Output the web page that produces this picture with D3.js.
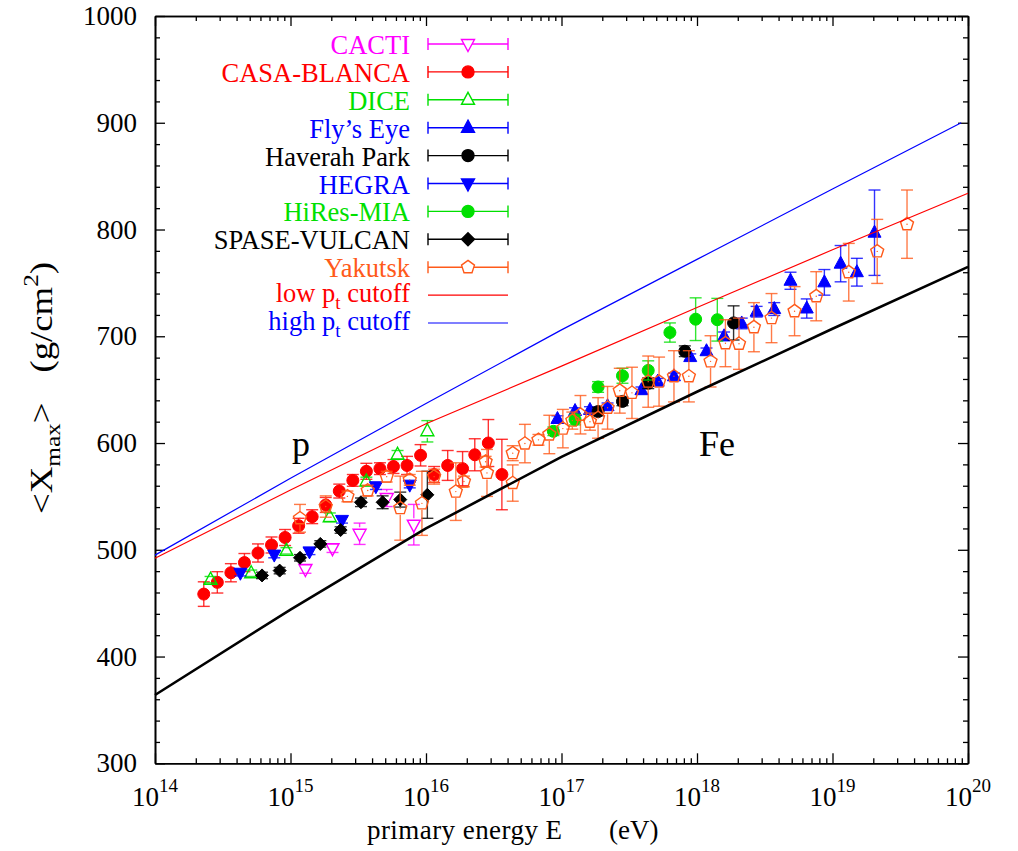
<!DOCTYPE html>
<html>
<head>
<meta charset="utf-8">
<script src="https://cdn.jsdelivr.net/npm/d3@7"></script>
<style>
  body { margin: 0; background: #fff; }
  text { font-family: "Liberation Serif", "Times New Roman", serif; }
</style>
</head>
<body>
<svg id="chart" width="1018" height="851"></svg>
<script>
// energies stored as log10(E / eV)
const cactiE = [15.11, 15.31, 15.51, 15.71, 15.91];
const cactiX = [482, 501.5, 515, 548.5, 523.5];
const cactiErr = [4, 4, 10, 8, 19];

const casaE = [14.36, 14.46, 14.56, 14.66, 14.76, 14.86, 14.96, 15.06, 15.16, 15.26, 15.36, 15.46,
               15.56, 15.66, 15.76, 15.86, 15.96, 16.06, 16.16, 16.27, 16.36, 16.46, 16.56];
const casaX = [458.5, 469.5, 478.5, 488, 497, 504.5, 511.5, 522.5, 531, 542, 555, 565,
               573.5, 576, 578, 579, 588.5, 570.5, 579, 576, 589, 600, 570.5];
const casaErr = [11.5, 10, 8.5, 8.5, 8.5, 7.5, 7.5, 7, 6.5, 7, 6.5, 5.5,
                 7.5, 5.5, 6.5, 8.5, 10, 7.5, 14, 16, 15, 22, 33];

const diceE = [14.41, 14.71, 14.97, 15.29, 15.56, 15.79, 16.01];
const diceX = [472, 478, 499, 530.5, 564, 589, 611];
const diceErr = [3, 3, 3, 4, 4, 4, 10];

const flysE = [16.97, 17.10, 17.21, 17.34, 17.59, 17.71, 17.83, 17.95, 18.07, 18.20,
               18.33, 18.44, 18.57, 18.69, 18.81, 18.94, 19.06, 19.18, 19.31];
const flysX = [622.5, 630, 631, 634.5, 649.5, 657.5, 662.5, 680.5, 686, 700,
               712, 723, 725.5, 752, 726, 750.5, 768, 760, 797];
const flysErr = [3, 3, 3, 3, 3, 3, 3, 3, 3, 4, 5, 5, 6, 8, 9, 12, 17, 13, 40];

const haverahE = [17.27, 17.45, 17.64, 17.91, 18.27];
const haverahX = [629.5, 639, 656, 686, 712.5];
const haverahErr = [4, 4, 5, 5, 16];

const hegraE = [14.63, 14.88, 15.14, 15.38, 15.63, 15.88];
const hegraX = [478.5, 495.5, 498.5, 528, 559.5, 561];
const hegraErr = [3, 3, 3, 3, 3, 3];

const hiresE = [16.94, 17.10, 17.27, 17.45, 17.64, 17.80, 17.99, 18.15];
const hiresX = [611, 622, 652.5, 663, 668, 703.5, 716, 715.5];
const hiresErr = [4, 5, 5, 7, 9, 9, 20, 20];

const spaseE = [14.79, 14.92, 15.07, 15.22, 15.37, 15.52, 15.68, 15.81, 16.01];
const spaseX = [476, 480.5, 492.5, 505.5, 518.5, 544.5, 544.5, 547, 551.5];
const spaseErr = [3, 3, 3, 3, 3, 4, 6, 7, 22];

const yakutskE = [15.07, 15.26, 15.42, 15.57, 15.71, 15.81, 15.88, 15.97, 16.06, 16.22,
                  16.28, 16.44, 16.45, 16.64, 16.64, 16.73, 16.83, 16.91, 17.01, 17.08,
                  17.14, 17.21, 17.27, 17.34, 17.43, 17.52, 17.64, 17.72, 17.83, 17.94,
                  18.10, 18.21, 18.31, 18.42, 18.55, 18.72, 18.88, 19.12, 19.33, 19.55];
const yakutskX = [529.5, 540.5, 550, 555.5, 568.5, 539, 565.5, 543.5, 568.5, 554.5,
                  564, 582.5, 572, 590.5, 562.5, 599.5, 603, 608, 613.5, 621,
                  626.5, 620, 623.5, 633, 649, 647, 657.5, 657.5, 662.5, 662.5,
                  676.5, 693.5, 693, 708.5, 717, 723.5, 737.5, 760, 779.5, 805];
const yakutskErr = [13, 10, 5, 5, 5, 30, 5, 30, 7, 27,
                    5, 5, 22, 7, 17, 18, 5, 18, 18, 8,
                    18, 8, 19, 20, 21, 24, 24, 23, 24, 24,
                    24, 22, 24, 23, 23, 23, 23, 27, 30, 32];

// model curves
const lowPtE = [14, 15, 16, 17, 18, 19, 20];
const lowPtX = [492, 556, 618, 672, 727, 781, 834];
const highPtE = [14, 15, 16, 17, 18, 19, 19.95];
const highPtX = [495, 567, 637, 706, 772, 838, 900];
const ironE = [14, 15, 16, 17, 18, 19, 20];
const ironX = [364, 444, 520, 587, 648, 707, 765];

const decades = [14, 15, 16, 17, 18, 19, 20];
const yTicks = [300, 400, 500, 600, 700, 800, 900, 1000];

const svg = d3.select("#chart");
const pL = 155, pR = 968, pT = 16, pB = 763.3;

const x = d3.scaleLog().domain([1e14, 1e20]).range([pL, pR]);
const y = d3.scaleLinear().domain([300, 1000]).range([pB, pT]);

const majorE = decades.map(d => Math.pow(10, d));
const minorE = [];
decades.slice(0, -1).forEach(d => { for (let k = 2; k <= 9; k++) minorE.push(k * Math.pow(10, d)); });
const minorY = d3.range(300, 1001, 20).filter(v => v % 100 !== 0);

function styleAxis(g) {
  g.select(".domain").attr("stroke", "#000").attr("stroke-width", 1.6);
  g.selectAll(".tick line").attr("stroke", "#000").attr("stroke-width", 1.3);
}

// frame + inward ticks on all four sides
svg.append("g").attr("transform", `translate(0,${pB})`)
  .call(d3.axisBottom(x).tickValues(majorE).tickSize(-10).tickSizeOuter(0).tickFormat("")).call(styleAxis);
svg.append("g").attr("transform", `translate(0,${pB})`)
  .call(d3.axisBottom(x).tickValues(minorE).tickSize(-5).tickSizeOuter(0).tickFormat("")).call(styleAxis);
svg.append("g").attr("transform", `translate(0,${pT})`)
  .call(d3.axisTop(x).tickValues(majorE).tickSize(-10).tickSizeOuter(0).tickFormat("")).call(styleAxis);
svg.append("g").attr("transform", `translate(0,${pT})`)
  .call(d3.axisTop(x).tickValues(minorE).tickSize(-5).tickSizeOuter(0).tickFormat("")).call(styleAxis);
svg.append("g").attr("transform", `translate(${pL},0)`)
  .call(d3.axisLeft(y).tickValues(yTicks).tickSize(-10).tickSizeOuter(0).tickFormat("")).call(styleAxis);
svg.append("g").attr("transform", `translate(${pL},0)`)
  .call(d3.axisLeft(y).tickValues(minorY).tickSize(-5).tickSizeOuter(0).tickFormat("")).call(styleAxis);
svg.append("g").attr("transform", `translate(${pR},0)`)
  .call(d3.axisRight(y).tickValues(yTicks).tickSize(-10).tickSizeOuter(0).tickFormat("")).call(styleAxis);
svg.append("g").attr("transform", `translate(${pR},0)`)
  .call(d3.axisRight(y).tickValues(minorY).tickSize(-5).tickSizeOuter(0).tickFormat("")).call(styleAxis);

// tick labels
svg.selectAll(".ylab").data(yTicks).enter().append("text")
  .attr("x", 137).attr("y", d => y(d) + 9)
  .attr("text-anchor", "end").attr("font-size", 27).text(d => d);

const xl = svg.selectAll(".xlab").data(decades).enter().append("text")
  .attr("x", d => x(Math.pow(10, d))).attr("y", 806)
  .attr("text-anchor", "middle").attr("font-size", 27);
xl.append("tspan").text("10");
xl.append("tspan").attr("dy", -14).attr("font-size", 19).text(d => d);

// axis titles
const xt = svg.append("text").attr("y", 839).attr("font-size", 27);
xt.append("tspan").attr("x", 367).attr("textLength", 195).text("primary energy E");
xt.append("tspan").attr("x", 609).text("(eV)");

const yt = svg.append("text").attr("transform", "translate(52,388) rotate(-90) scale(1.15,1)")
  .attr("text-anchor", "middle").attr("font-size", 32);
yt.append("tspan").text("<X");
yt.append("tspan").attr("font-size", 22).attr("dy", 8).text("max");
yt.append("tspan").attr("dy", -8).text(">");
yt.append("tspan").attr("dx", 26).text("(g/cm");
yt.append("tspan").attr("font-size", 22).attr("dy", -14).text("2");
yt.append("tspan").attr("dy", 14).text(")");

svg.append("text").attr("x", 292).attr("y", 456).attr("font-size", 36).text("p");
svg.append("text").attr("x", 699).attr("y", 456).attr("font-size", 36).text("Fe");

// marker shapes
function markerPath(shape) {
  const s = 6.5;
  if (shape === "circle") return d3.symbol(d3.symbolCircle, Math.PI * 6 * 6)();
  if (shape === "diamond") return `M0,${-s}L${s},0L0,${s}L${-s},0Z`;
  if (shape === "triUp") return `M0,${-7.5}L${s},${4.5}L${-s},${4.5}Z`;
  if (shape === "triDown") return `M0,${7.5}L${s},${-4.5}L${-s},${-4.5}Z`;
  if (shape === "pentagon") {
    const r = 6.8;
    return d3.range(5).map((i, j) => {
      const a = -Math.PI / 2 + i * 2 * Math.PI / 5;
      return (j ? "L" : "M") + (r * Math.cos(a)).toFixed(2) + "," + (r * Math.sin(a)).toFixed(2);
    }).join("") + "Z";
  }
}

const series = [
  {name: "CACTI", color: "#ff00ff", shape: "triDown", open: true, E: cactiE, X: cactiX, err: cactiErr},
  {name: "CASA-BLANCA", color: "#ff0000", shape: "circle", open: false, E: casaE, X: casaX, err: casaErr},
  {name: "DICE", color: "#00e000", shape: "triUp", open: true, E: diceE, X: diceX, err: diceErr},
  {name: "Fly\u2019s Eye", color: "#0000ff", shape: "triUp", open: false, E: flysE, X: flysX, err: flysErr},
  {name: "Haverah Park", color: "#000000", shape: "circle", open: false, E: haverahE, X: haverahX, err: haverahErr},
  {name: "HEGRA", color: "#0000ff", shape: "triDown", open: false, E: hegraE, X: hegraX, err: hegraErr},
  {name: "HiRes-MIA", color: "#00e000", shape: "circle", open: false, E: hiresE, X: hiresX, err: hiresErr},
  {name: "SPASE-VULCAN", color: "#000000", shape: "diamond", open: false, E: spaseE, X: spaseX, err: spaseErr},
  {name: "Yakutsk", color: "#ff5a1a", shape: "pentagon", open: true, E: yakutskE, X: yakutskX, err: yakutskErr}
];

const cap = 6;
const plot = svg.append("g");

series.forEach(s => {
  const pts = s.E.map((e, i) => ({px: x(Math.pow(10, e)), py: y(s.X[i]), lo: y(s.X[i] - s.err[i]), hi: y(s.X[i] + s.err[i])}));
  const g = plot.append("g").attr("stroke", s.color).attr("stroke-width", 1.4);
  // error bars (gap around open markers)
  pts.forEach(p => {
    const gap = s.open ? 6.5 : 0;
    if (p.py - p.hi > gap) g.append("line").attr("x1", p.px).attr("x2", p.px).attr("y1", p.hi).attr("y2", p.py - gap).attr("stroke-opacity", 0.8);
    if (p.lo - p.py > gap) g.append("line").attr("x1", p.px).attr("x2", p.px).attr("y1", p.py + gap).attr("y2", p.lo).attr("stroke-opacity", 0.8);
    g.append("line").attr("x1", p.px - cap).attr("x2", p.px + cap).attr("y1", p.hi).attr("y2", p.hi).attr("stroke-opacity", 0.8);
    g.append("line").attr("x1", p.px - cap).attr("x2", p.px + cap).attr("y1", p.lo).attr("y2", p.lo).attr("stroke-opacity", 0.8);
  });
  g.selectAll("path.m").data(pts).enter().append("path")
    .attr("transform", p => `translate(${p.px},${p.py})`)
    .attr("d", markerPath(s.shape))
    .attr("fill", s.open ? "none" : s.color)
    .attr("stroke-width", s.open ? 1.4 : 1);
  if (s.shape === "pentagon") {
    g.selectAll("circle.c").data(pts).enter().append("circle")
      .attr("cx", p => p.px).attr("cy", p => p.py).attr("r", 0.7)
      .attr("fill", s.color).attr("stroke", "none");
  }
});

// model curves
const line = d3.line().x(d => x(Math.pow(10, d[0]))).y(d => y(d[1]));
svg.append("path").datum(lowPtE.map((e, i) => [e, lowPtX[i]]))
  .attr("d", line).attr("fill", "none").attr("stroke", "#ff0000").attr("stroke-width", 1.2);
svg.append("path").datum(highPtE.map((e, i) => [e, highPtX[i]]))
  .attr("d", line).attr("fill", "none").attr("stroke", "#0000ff").attr("stroke-width", 1.2);
svg.append("path").datum(ironE.map((e, i) => [e, ironX[i]]))
  .attr("d", line).attr("fill", "none").attr("stroke", "#000").attr("stroke-width", 2.6);

// legend
const legendRows = series.map(s => ({label: s.name, color: s.color, s}))
  .concat([{label: "low", color: "#ff0000", lineColor: "#ff0000"},
           {label: "high", color: "#0000ff", lineColor: "#0000ff"}]);
const lg = svg.append("g");
legendRows.forEach((r, i) => {
  const cy = 44 + i * 27.9;
  const t = lg.append("text").attr("x", 410).attr("text-anchor", "end")
    .attr("font-size", 26.5).attr("fill", r.color);
  if (r.s) {
    t.attr("y", cy + 10).text(r.label);
    const g = lg.append("g").attr("stroke", r.color).attr("stroke-width", 1.4);
    g.append("line").attr("x1", 428).attr("x2", 508).attr("y1", cy).attr("y2", cy);
    g.append("line").attr("x1", 428).attr("x2", 428).attr("y1", cy - 6).attr("y2", cy + 6);
    g.append("line").attr("x1", 508).attr("x2", 508).attr("y1", cy - 6).attr("y2", cy + 6);
    g.append("path").attr("transform", `translate(468,${cy})`).attr("d", markerPath(r.s.shape))
      .attr("fill", r.s.open ? "#fff" : r.color);
  } else {
    t.attr("y", cy + 7);
    t.append("tspan").text(r.label + " p");
    t.append("tspan").attr("font-size", 19).attr("dy", 7).text("t");
    t.append("tspan").attr("dy", -7).text(" cutoff");
    lg.append("line").attr("x1", 428).attr("x2", 508).attr("y1", cy).attr("y2", cy)
      .attr("stroke", r.lineColor).attr("stroke-width", 1.2);
  }
});
</script>
</body>
</html>
